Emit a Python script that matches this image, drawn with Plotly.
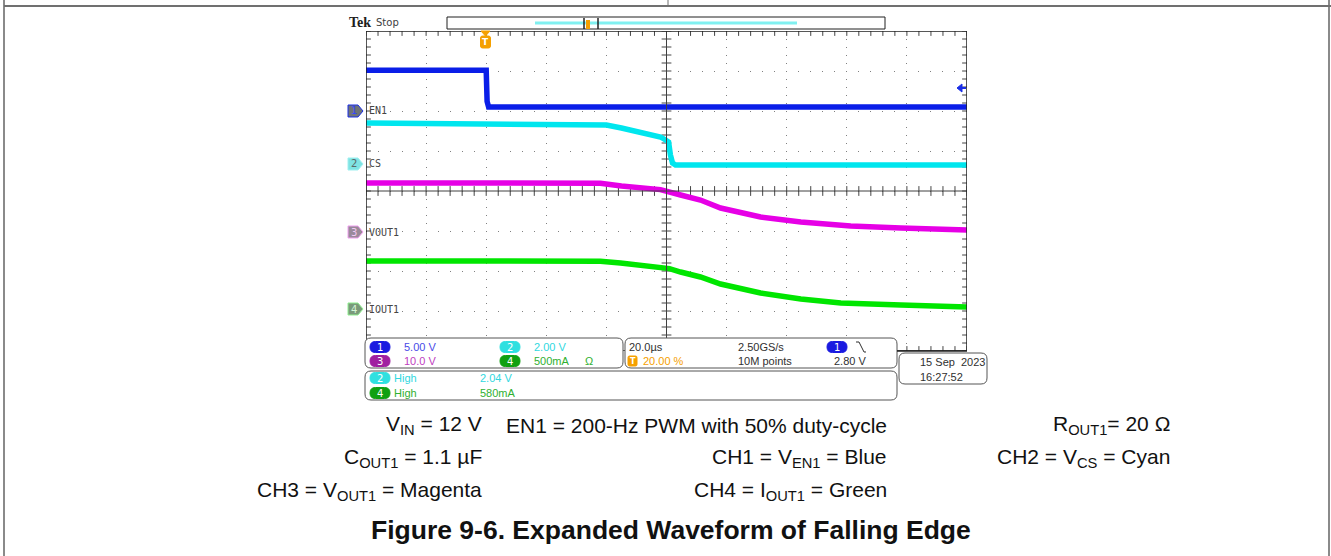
import numpy as np
import plotly.graph_objects as go

# ---------------- data ----------------
# time axis: 20 us/div, trigger (t = 0) at 20 % of the record
time_en1_us = [-40, 0, 0.3, 0.8, 160]
en1_v = [5.1, 5.1, 1.2, 0.5, 0.5]

time_cs_us = [-40, 35, 40, 45, 51, 58, 59.7, 60.7, 61.3, 62, 63, 160]
cs_v = [2.05, 2.0, 1.95, 1.8, 1.6, 1.35, 1.2, 1.1, 0.45, 0.05, -0.05, -0.05]

time_vout_us = [-40, 38, 45, 58, 64.7, 71.3, 78, 91.3, 104.7, 121.3, 138, 160]
vout1_v = [12.25, 12.2, 11.5, 10.6, 9.25, 8.0, 6.0, 3.75, 2.5, 1.5, 1.0, 0.5]

time_iout_us = [-40, 38, 44.7, 54.7, 58, 61, 64.7, 71.3, 78, 84.7, 91.3, 104.7, 118, 138, 160]
iout1_ma = [600, 598, 575, 537, 525, 505, 462, 400, 312, 250, 200, 125, 75, 50, 25]

channel_names = ["EN1", "CS", "VOUT1", "IOUT1"]
channel_scale_labels = ["5.00 V", "2.00 V", "10.0 V", "500mA"]
meas_labels = ["2.04 V", "580mA"]
timebase_label = "20.0µs"
sample_rate_label = "2.50GS/s"
trigger_pos_label = "20.00 %"
record_label = "10M points"
trigger_level_label = "2.80 V"
date_label = "15 Sep  2023"
time_label = "16:27:52"

# ---------------- layout constants ----------------
W, H = 1331, 556
def X(px): return px / W
def Y(py): return 1 - py / H

GX0, GX1, GY0, GY1 = 366, 967, 31, 351
ch_scale = [5.0, 2.0, 10.0, 500.0]        # units per division
ch_pos = [2.0, 0.675, -1.025, -2.95]       # ground marker position (div)
ch_color = ["#0a1ee8", "#00e6ee", "#e600e6", "#00e600"]

fig = go.Figure()

# graticule tick marks
tick_col = "#454545"
xt = np.arange(-40, 160.01, 4)
yt = np.arange(-4, 4.001, 0.2)
for yy in (-4, 0, 4):
    fig.add_trace(go.Scatter(x=xt, y=[yy] * len(xt), mode="markers",
                             marker=dict(symbol="line-ns", size=7, line=dict(color=tick_col, width=1)),
                             hoverinfo="skip", showlegend=False))
for xx in (-40, 60, 160):
    fig.add_trace(go.Scatter(x=[xx] * len(yt), y=yt, mode="markers",
                             marker=dict(symbol="line-ew", size=7, line=dict(color=tick_col, width=1)),
                             hoverinfo="skip", showlegend=False))

# waveforms
series = [(time_en1_us, en1_v), (time_cs_us, cs_v), (time_vout_us, vout1_v), (time_iout_us, iout1_ma)]
for i, (t, v) in enumerate(series):
    fig.add_trace(go.Scatter(x=t, y=[val / ch_scale[i] + ch_pos[i] for val in v], mode="lines",
                             line=dict(color=ch_color[i], width=5.5),
                             hoverinfo="skip", showlegend=False))

shapes = []
ann = []

def line_px(x0, y0, x1, y1, color="#333", width=1):
    shapes.append(dict(type="line", xref="paper", yref="paper", x0=X(x0), y0=Y(y0), x1=X(x1), y1=Y(y1),
                       line=dict(color=color, width=width)))

def path_px(pts, fill, color, width=1, close=True):
    d = "M " + " L ".join(f"{X(a):.5f},{Y(b):.5f}" for a, b in pts) + (" Z" if close else "")
    shapes.append(dict(type="path", xref="paper", yref="paper", path=d, fillcolor=fill,
                       line=dict(color=color, width=width)))

def rrect(x0, y0, x1, y1, r, fill="white", color="#555", width=1):
    p = (f"M {X(x0+r)},{Y(y0)} L {X(x1-r)},{Y(y0)} Q {X(x1)},{Y(y0)} {X(x1)},{Y(y0+r)} "
         f"L {X(x1)},{Y(y1-r)} Q {X(x1)},{Y(y1)} {X(x1-r)},{Y(y1)} L {X(x0+r)},{Y(y1)} "
         f"Q {X(x0)},{Y(y1)} {X(x0)},{Y(y1-r)} L {X(x0)},{Y(y0+r)} Q {X(x0)},{Y(y0)} {X(x0+r)},{Y(y0)} Z")
    shapes.append(dict(type="path", xref="paper", yref="paper", path=p, fillcolor=fill,
                       line=dict(color=color, width=width)))

def txt(s, px, py, size=11, color="#303030", family="Liberation Sans", anchor="left"):
    ann.append(dict(text=s, x=X(px), y=Y(py), xref="paper", yref="paper", xanchor=anchor,
                    yanchor="middle", showarrow=False, font=dict(size=size, color=color, family=family)))

# page frame
line_px(4, 0, 4, 556, "#8a8a8a", 2)
line_px(1329, 0, 1329, 556, "#8a8a8a", 2)
line_px(4, 6, 1331, 6, "#707070", 2)
line_px(668, 0, 668, 6, "#707070", 1)

# graticule frame and centre lines
shapes.append(dict(type="line", xref="x", yref="y", x0=60, x1=60, y0=-4, y1=4, line=dict(color="#404040", width=1)))
shapes.append(dict(type="line", xref="x", yref="y", x0=-40, x1=160, y0=0, y1=0, line=dict(color="#404040", width=1)))
shapes.append(dict(type="rect", xref="x", yref="y", x0=-40, x1=160, y0=-4, y1=4, line=dict(color="#202020", width=1.5)))

# header: Tek Stop + record bar
txt("<b>Tek</b>", 347, 23, 14, "#202020", "Liberation Serif")
txt("Stop", 374, 23, 10, "#404040", "DejaVu Sans")
shapes.append(dict(type="rect", xref="paper", yref="paper", x0=X(447), x1=X(885), y0=Y(29), y1=Y(17),
                   line=dict(color="#202020", width=1), fillcolor="white"))
line_px(535, 23, 797, 23, "#80f0f0", 3)
line_px(584, 18, 584, 29, "#202020", 1.5)
line_px(598, 18, 598, 29, "#202020", 1.5)
shapes.append(dict(type="rect", xref="paper", yref="paper", x0=X(586), x1=X(590), y0=Y(29), y1=Y(20),
                   line=dict(width=0), fillcolor="#f5a000"))

# trigger position marker
orange = "#f5a000"
path_px([(481, 31), (490, 31), (485.5, 36)], orange, orange)
rrect(480.5, 36, 490.5, 48, 2, orange, orange)
txt("<b>T</b>", 485.5, 42, 9, "white", "DejaVu Sans", "center")

# trigger level arrow (CH1)
path_px([(957, 88), (962, 84), (962, 92)], "#1a2ee6", "#1a2ee6")
line_px(962, 88, 966, 88, "#1a2ee6", 2)

# channel ground markers and labels
tag_fill = ["#6e7378", "#7fe3e3", "#9a8a9a", "#7a9a7a"]
tag_line = ["#1a2ee6", "#a0f0f0", "#f0a0f0", "#90f090"]
tag_num = ["#3548ff", "#5a6a6a", "#f3c9f3", "#d5f5d5"]
for i in range(4):
    py = 191 - ch_pos[i] * 40
    path_px([(348, py - 6), (358, py - 6), (363, py), (358, py + 6), (348, py + 6)], tag_fill[i], tag_line[i])
    txt(str(i + 1), 353.5, py, 10, tag_num[i], "DejaVu Sans", "center")
    txt(channel_names[i], 367, py, 10, "#454545", "DejaVu Sans Mono")

# info boxes
rrect(365, 338, 623, 368, 6)
rrect(365, 371, 897, 400, 6)
rrect(625, 338, 897, 368, 6)
rrect(899, 353, 987, 384, 6)
line_px(897, 351, 967, 351, "#202020", 1.5)

pill_col = ["#1a1ae0", "#30e0e0", "#a020a0", "#10a010"]
txt_col = ["#4a4ae8", "#30d8e0", "#c040c0", "#30b030"]
def pill(cx, cy, c, s):
    rrect(cx - 10, cy - 5.5, cx + 10, cy + 5.5, 5.5, c, c)
    txt(s, cx, cy, 10, "white", "DejaVu Sans", "center")

pill(380, 347, pill_col[0], "1"); txt(channel_scale_labels[0], 402, 347, 11, txt_col[0])
pill(510, 347, pill_col[1], "2"); txt(channel_scale_labels[1], 532, 347, 11, txt_col[1])
pill(380, 361, pill_col[2], "3"); txt(channel_scale_labels[2], 402, 361, 11, txt_col[2])
pill(510, 361, pill_col[3], "4"); txt(channel_scale_labels[3], 532, 361, 11, txt_col[3])
txt("Ω", 583, 361, 11, txt_col[3])

pill(380, 378, pill_col[1], "2"); txt("High", 392, 378, 11, txt_col[1])
txt(meas_labels[0], 478, 378, 11, txt_col[1])
pill(380, 393, pill_col[3], "4"); txt("High", 392, 393, 11, txt_col[3])
txt(meas_labels[1], 478, 393, 11, txt_col[3])

txt(timebase_label, 627, 347, 11, "#303030")
txt(sample_rate_label, 736, 347, 11, "#303030")
pill(837, 347, pill_col[0], "1")
path_px([(856, 342), (859, 342), (864, 352), (866, 352)], "rgba(0,0,0,0)", "#303030", 1, close=False)
rrect(628, 356, 637, 366, 1.5, orange, orange)
txt("<b>T</b>", 632.5, 361, 8, "white", "DejaVu Sans", "center")
txt(trigger_pos_label, 641, 361, 11, orange)
txt(record_label, 736, 361, 11, "#303030")
txt(trigger_level_label, 832, 361, 11, "#303030")

txt(date_label, 918, 362, 11, "#303030")
txt(time_label, 918, 377, 11, "#303030")

# caption
cap = dict(size=21, color="#111111", family="Liberation Sans")
txt("V<sub>IN</sub> = 12 V", 484, 425, **cap, anchor="right")
txt("EN1 = 200-Hz PWM with 50% duty-cycle", 889, 425, **cap, anchor="right")
txt("R<sub>OUT1</sub>= 20 Ω", 1172, 425, **cap, anchor="right")
txt("C<sub>OUT1</sub> = 1.1 µF", 484, 458, **cap, anchor="right")
txt("CH1 = V<sub>EN1</sub> = Blue", 889, 458, **cap, anchor="right")
txt("CH2 = V<sub>CS</sub> = Cyan", 1172, 458, **cap, anchor="right")
txt("CH3 = V<sub>OUT1</sub> = Magenta", 484, 491, **cap, anchor="right")
txt("CH4 = I<sub>OUT1</sub> = Green", 889, 491, **cap, anchor="right")
txt("<b>Figure 9-6. Expanded Waveform of Falling Edge</b>", 671, 530, 26.5, "#111111", "Liberation Sans", "center")

fig.update_layout(
    width=W, height=H, margin=dict(l=0, r=0, t=0, b=0),
    paper_bgcolor="white", plot_bgcolor="white", showlegend=False,
    xaxis=dict(domain=[X(GX0), X(GX1)], range=[-40, 160], tickvals=list(range(-40, 161, 20)),
               showticklabels=False, ticks="", showgrid=True, gridcolor="#808080", gridwidth=1,
               griddash="1px,7px", zeroline=False, showline=False, fixedrange=True),
    yaxis=dict(domain=[Y(GY1), Y(GY0)], range=[-4, 4], tickvals=list(range(-4, 5)),
               showticklabels=False, ticks="", showgrid=True, gridcolor="#808080", gridwidth=1,
               griddash="1px,11px", zeroline=False, showline=False, fixedrange=True),
    shapes=shapes, annotations=ann,
)

fig.write_html("out.html", config={"displayModeBar": False},
               post_script="document.body.style.margin='0';document.body.style.overflow='hidden';")
